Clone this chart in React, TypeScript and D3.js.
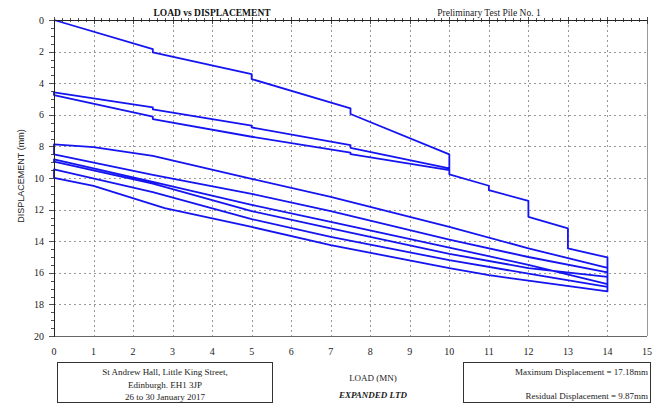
import * as d3 from "d3";

// load (MN) / displacement (mm), in test order
const loadingLoad = [0, 2.5, 2.5, 5, 5, 7.5, 7.5, 10, 10];
const loadingDisp = [0, 1.85, 2.05, 3.42, 3.74, 5.59, 5.95, 8.5, 9.5];

const unload1Load = [7.5, 7.5, 5, 2.5, 2.5, 0, 0];
const unload1Disp = [8.49, 8.4, 7.39, 6.27, 6.12, 4.75, 4.58];

const reload1Load = [2.5, 2.5, 5, 5, 7.5, 7.5, 10, 10, 11, 11, 12, 12, 13, 13, 14, 14];
const reload1Disp = [5.53, 5.66, 6.69, 6.8, 7.92, 8.09, 9.39, 9.77, 10.49, 10.77, 11.45, 12.46, 13.19, 14.46, 15.03, 17.18];

// cycles at 14 MN (unload / reload)
const cycleLoad = [
  [12, 11, 10, 7, 5, 2.8, 1, 0, 0],
  [2.5, 5, 7, 10, 12, 14, 14],
  [12, 10, 7, 5, 2.5, 0, 0],
  [2.5, 5, 7, 10, 12, 14, 14],
  [12, 10, 7, 5, 2.5, 0, 0],
  [1, 2.5, 5, 7, 10, 12, 14],
];
const cycleDisp = [
  [16.5, 16.15, 15.7, 14.25, 13.1, 11.9, 10.5, 9.99, 9.46],
  [10.9, 12.6, 13.72, 15.2, 16.05, 16.89, 16.72],
  [15.5, 14.4, 12.77, 11.7, 10.25, 8.82, 8.97],
  [10.35, 12.1, 13.19, 14.8, 15.7, 16.26, 15.98],
  [15.0, 13.9, 12.1, 11.0, 9.8, 8.5, 7.87],
  [8.05, 8.6, 10.05, 11.19, 13.1, 14.45, 15.69],
];

const xTicks = [0, 1, 2, 3, 4, 5, 6, 7, 8, 9, 10, 11, 12, 13, 14, 15];
const yTicks = [0, 2, 4, 6, 8, 10, 12, 14, 16, 18, 20];

const title = "LOAD vs DISPLACEMENT";
const subtitle = "Preliminary Test Pile No. 1";
const siteLines = ["St Andrew Hall, Little King Street,", "Edinburgh.  EH1 3JP", "26 to 30 January 2017"];
const maxText = "Maximum Displacement = 17.18mm";
const resText = "Residual Displacement = 9.87mm";

const W = 658;
const H = 403;
const serif = "'Liberation Serif', 'Times New Roman', serif";

export default function App() {
  const x = d3.scaleLinear().domain([0, 15]).range([54, 647]);
  const y = d3.scaleLinear().domain([0, 20]).range([20, 336]);
  const px = (v: number) => Math.round(v) + 0.5;

  const pts: [number, number][] = [];
  const add = (ls: number[], ds: number[]) => ls.forEach((l, i) => pts.push([l, ds[i]]));
  add(loadingLoad, loadingDisp);
  add(unload1Load, unload1Disp);
  add(reload1Load, reload1Disp);
  cycleLoad.forEach((ls, i) => add(ls, cycleDisp[i]));

  const line = d3.line<[number, number]>().x(d => x(d[0])).y(d => y(d[1]));

  const topMinor = d3.range(0, 15.001, 0.2);
  const leftMinor = d3.range(0, 20.001, 0.5);

  return (
    <svg width={W} height={H} style={{ position: "absolute", left: 0, top: 0, background: "#fff" }}>
      <rect x={0} y={0} width={W} height={H} fill="#fff" />
      {/* grid */}
      <g stroke="#999" strokeWidth={1} strokeDasharray="2,3">
        {xTicks.slice(1, -1).map(t => (
          <line key={"gx" + t} x1={px(x(t))} x2={px(x(t))} y1={y(0)} y2={y(20)} />
        ))}
        {yTicks.slice(1, -1).map(t => (
          <line key={"gy" + t} x1={x(0)} x2={x(15)} y1={px(y(t))} y2={px(y(t))} />
        ))}
      </g>
      {/* frame */}
      <line x1={x(0)} x2={x(15)} y1={px(y(20))} y2={px(y(20))} stroke="#666" strokeWidth={1} />
      <line x1={px(x(15))} x2={px(x(15))} y1={y(0)} y2={y(20)} stroke="#999" strokeWidth={1} />

      <path d={line(pts) ?? ""} fill="none" stroke="#1414f0" strokeWidth={1.8} strokeLinejoin="round" />

      {/* top axis */}
      <line x1={x(0)} x2={x(15)} y1={px(y(0))} y2={px(y(0))} stroke="#222" strokeWidth={1} />
      {topMinor.map(t => {
        const major = Math.abs(t - Math.round(t)) < 1e-6;
        return <line key={"tt" + t} x1={px(x(t))} x2={px(x(t))} y1={y(0) - (major ? 3 : 2)} y2={y(0) + (major ? 4 : 2)} stroke="#222" strokeWidth={0.8} />;
      })}
      {/* left axis */}
      <line x1={px(x(0))} x2={px(x(0))} y1={y(0)} y2={y(20)} stroke="#222" strokeWidth={1} />
      {leftMinor.map(t => {
        const major = Math.abs(t / 2 - Math.round(t / 2)) < 1e-6;
        return <line key={"lt" + t} x1={x(0) - (major ? 5 : 3)} x2={x(0) + 1} y1={px(y(t))} y2={px(y(t))} stroke="#222" strokeWidth={0.8} />;
      })}
      {yTicks.map(t => (
        <text key={"yl" + t} x={44} y={y(t) + 3.5} textAnchor="end" fontFamily={serif} fontSize={10} fill="#222">{t}</text>
      ))}
      {xTicks.map(t => (
        <text key={"xl" + t} x={x(t)} y={355} textAnchor="middle" fontFamily={serif} fontSize={10} fill="#222">{t}</text>
      ))}

      <text transform="translate(24,176) rotate(-90)" textAnchor="middle" fontFamily="'Liberation Sans', Arial, sans-serif" fontSize={9} fill="#222">DISPLACEMENT (mm)</text>
      <text x={212} y={16} textAnchor="middle" fontFamily={serif} fontSize={9.5} fontWeight="bold" fill="#111">{title}</text>
      <text x={489} y={16} textAnchor="middle" fontFamily={serif} fontSize={9.5} fill="#222">{subtitle}</text>

      <text x={373} y={381} textAnchor="middle" fontFamily={serif} fontSize={9} fill="#222">LOAD (MN)</text>
      <text x={373} y={398} textAnchor="middle" fontFamily={serif} fontSize={9} fontWeight="bold" fontStyle="italic" fill="#222">EXPANDED LTD</text>

      <rect x={57.5} y={362.5} width={215} height={40} fill="none" stroke="#333" strokeWidth={1} />
      {siteLines.map((s, i) => (
        <text key={s} x={165} y={375 + i * 12.5} textAnchor="middle" fontFamily={serif} fontSize={9} fill="#222">{s}</text>
      ))}
      <rect x={463.5} y={362.5} width={187} height={40} fill="none" stroke="#333" strokeWidth={1} />
      <text x={648} y={375} textAnchor="end" fontFamily={serif} fontSize={9} fill="#222">{maxText}</text>
      <text x={648} y={399} textAnchor="end" fontFamily={serif} fontSize={9} fill="#222">{resText}</text>
    </svg>
  );
}
